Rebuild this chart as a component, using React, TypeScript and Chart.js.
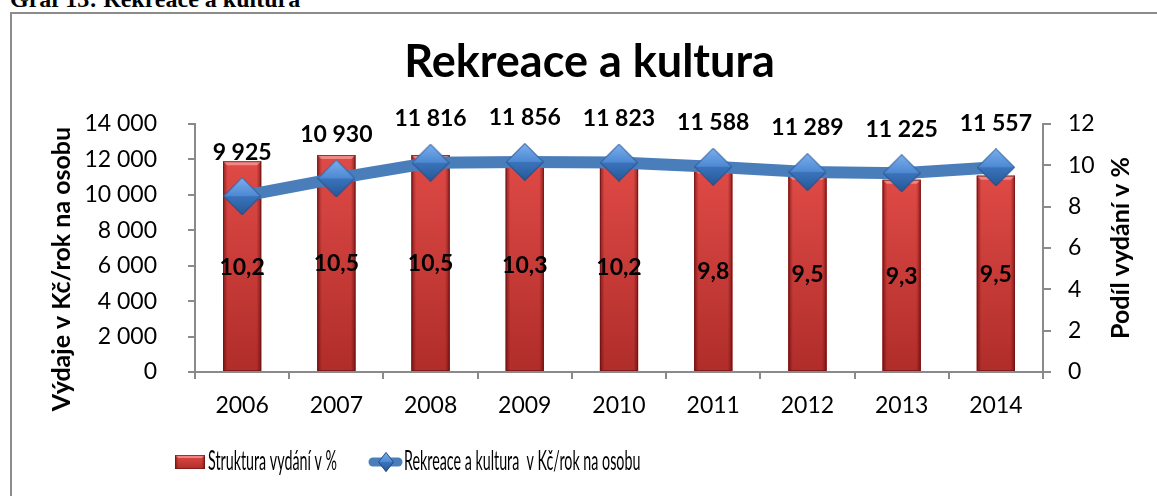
import React, { useEffect, useRef } from 'react';
import { Chart, registerables } from 'chart.js';

Chart.register(...registerables);

// ---------- data ----------
const years = ['2006', '2007', '2008', '2009', '2010', '2011', '2012', '2013', '2014'];
const spendingKc = [9925, 10930, 11816, 11856, 11823, 11588, 11289, 11225, 11557];
const sharePct = [10.2, 10.5, 10.5, 10.3, 10.2, 9.8, 9.5, 9.3, 9.5];

const chartTitle = 'Rekreace a kultura';
const caption = 'Graf 13: Rekreace a kultura';
const barSeriesLabel = 'Struktura vydání v %';
const lineSeriesLabel = 'Rekreace a kultura  v Kč/rok na osobu';
const leftAxisTitle = 'Výdaje v Kč/rok na osobu';
const rightAxisTitle = 'Podíl vydání v %';

const leftAxisMax = 14000;
const leftAxisStep = 2000;
const rightAxisMax = 12;
const rightAxisStep = 2;

// ---------- helpers ----------
const fmtThousands = (v: number) =>
  String(Math.round(v)).replace(/\B(?=(\d{3})+(?!\d))/g, ' ');
const fmtDecimal = (v: number) => v.toFixed(1).replace('.', ',');

const FONT = 'Lato';

function makeDiamond(w: number, h: number) {
  const c = document.createElement('canvas');
  c.width = w;
  c.height = h;
  const g = c.getContext('2d')!;
  const cx = w / 2;
  const cy = h / 2;
  g.beginPath();
  g.moveTo(0, cy);
  g.lineTo(cx, 0);
  g.lineTo(w, cy);
  g.closePath();
  const gt = g.createLinearGradient(0, 0, 0, cy);
  gt.addColorStop(0, '#7db0ef');
  gt.addColorStop(1, '#4c88d2');
  g.fillStyle = gt;
  g.fill();
  g.beginPath();
  g.moveTo(0, cy);
  g.lineTo(w, cy);
  g.lineTo(cx, h);
  g.closePath();
  const gb = g.createLinearGradient(0, cy, 0, h);
  gb.addColorStop(0, '#3b74bc');
  gb.addColorStop(1, '#265796');
  g.fillStyle = gb;
  g.fill();
  g.beginPath();
  g.moveTo(cx, 0.5);
  g.lineTo(w - 0.5, cy);
  g.lineTo(cx, h - 0.5);
  g.lineTo(0.5, cy);
  g.closePath();
  g.strokeStyle = 'rgba(28,66,122,0.85)';
  g.lineWidth = 1;
  g.stroke();
  return c;
}

function paintRedBox(ctx: CanvasRenderingContext2D, l: number, top: number, w: number, h: number, bevel: number) {
  const r = l + w;
  const bot = top + h;
  const gv = ctx.createLinearGradient(0, top, 0, bot);
  gv.addColorStop(0, '#df4a46');
  gv.addColorStop(1, '#b02d2a');
  ctx.fillStyle = gv;
  ctx.fillRect(l, top, w, h);
  const gh = ctx.createLinearGradient(l, 0, r, 0);
  gh.addColorStop(0, 'rgba(80,0,0,0.55)');
  gh.addColorStop(0.12, 'rgba(80,0,0,0)');
  gh.addColorStop(0.88, 'rgba(80,0,0,0)');
  gh.addColorStop(1, 'rgba(80,0,0,0.55)');
  ctx.fillStyle = gh;
  ctx.fillRect(l, top, w, h);
  ctx.beginPath();
  ctx.moveTo(l, top);
  ctx.lineTo(r, top);
  ctx.lineTo(r - bevel, top + bevel);
  ctx.lineTo(l + bevel, top + bevel);
  ctx.closePath();
  ctx.fillStyle = 'rgba(255,185,180,0.55)';
  ctx.fill();
  ctx.strokeStyle = 'rgba(110,20,20,0.7)';
  ctx.lineWidth = 1;
  ctx.strokeRect(l + 0.5, top + 0.5, w - 1, h - 1);
}

const barShadePlugin = {
  id: 'barShade',
  afterDatasetDraw(chart: any, args: any) {
    if (args.index !== 0) return;
    const ctx = chart.ctx as CanvasRenderingContext2D;
    ctx.save();
    args.meta.data.forEach((el: any) => {
      const { x, y, base, width } = el.getProps(['x', 'y', 'base', 'width'], true);
      const top = Math.min(y, base);
      const bot = Math.max(y, base);
      paintRedBox(ctx, x - width / 2, top, width, bot - top, 4);
    });
    ctx.restore();
  },
};

const dataLabelPlugin = {
  id: 'dataLabels',
  afterDatasetsDraw(chart: any) {
    const ctx = chart.ctx as CanvasRenderingContext2D;
    ctx.save();
    ctx.font = `bold 23px ${FONT}`;
    ctx.fillStyle = '#000';
    ctx.textAlign = 'center';
    ctx.textBaseline = 'middle';
    const barMeta = chart.getDatasetMeta(0);
    barMeta.data.forEach((el: any, i: number) => {
      const { x, y, base } = el.getProps(['x', 'y', 'base'], true);
      ctx.fillText(fmtDecimal(chart.data.datasets[0].data[i]), x, (y + base) / 2 + 1);
    });
    const lineMeta = chart.getDatasetMeta(1);
    lineMeta.data.forEach((el: any, i: number) => {
      const { x, y } = el.getProps(['x', 'y'], true);
      ctx.fillText(fmtThousands(chart.data.datasets[1].data[i]), x, y - 44);
    });
    ctx.restore();
  },
};

const axisTitlePlugin = {
  id: 'axisTitles',
  afterDraw(chart: any) {
    const ctx = chart.ctx as CanvasRenderingContext2D;
    const ca = chart.chartArea;
    ctx.save();
    ctx.font = `bold 25px ${FONT}`;
    ctx.fillStyle = '#000';
    ctx.textAlign = 'center';
    ctx.textBaseline = 'middle';
    ctx.save();
    ctx.translate(62, (ca.top + ca.bottom) / 2 + 21);
    ctx.rotate(-Math.PI / 2);
    ctx.fillText(leftAxisTitle, 0, 0);
    ctx.restore();
    ctx.save();
    ctx.translate(1121, (ca.top + ca.bottom) / 2);
    ctx.rotate(-Math.PI / 2);
    ctx.fillText(rightAxisTitle, 0, 0);
    ctx.restore();
    ctx.restore();
  },
};

let legendDiamond: HTMLCanvasElement | null = null;

const legendPlugin = {
  id: 'customLegend',
  afterDraw(chart: any) {
    const ctx = chart.ctx as CanvasRenderingContext2D;
    const cy = 462;
    const ds = chart.data.datasets;
    ctx.save();
    ctx.font = `26px ${FONT}`;
    ctx.fillStyle = '#000';
    ctx.textBaseline = 'middle';
    ctx.textAlign = 'left';
    const k = 129 / ctx.measureText(ds[0].label).width;

    // bar swatch
    paintRedBox(ctx, 175, cy - 7, 30, 14, 3);
    ctx.fillStyle = '#000';
    ctx.save();
    ctx.translate(208, cy);
    ctx.scale(k, 1);
    ctx.fillText(ds[0].label, 0, 0);
    ctx.restore();

    // line swatch
    ctx.strokeStyle = '#4a7ebb';
    ctx.lineWidth = 9;
    ctx.lineCap = 'round';
    ctx.beginPath();
    ctx.moveTo(373, cy);
    ctx.lineTo(398, cy);
    ctx.stroke();
    if (!legendDiamond) legendDiamond = makeDiamond(16, 20);
    ctx.drawImage(legendDiamond, 386 - 8, cy - 10);
    ctx.fillStyle = '#000';
    ctx.save();
    ctx.translate(404, cy);
    ctx.scale(k, 1);
    ctx.fillText(ds[1].label, 0, 0);
    ctx.restore();
    ctx.restore();
  },
};

export default function App() {
  const canvasRef = useRef<HTMLCanvasElement | null>(null);

  useEffect(() => {
    let chart: Chart | null = null;
    let cancelled = false;
    const build = () => {
      if (cancelled || !canvasRef.current) return;
      const diamond = makeDiamond(38, 38);
      const axisColor = '#8a8a8a';
      const tickFont = { family: FONT, size: 23 };
      chart = new Chart(canvasRef.current, {
        type: 'bar',
        data: {
          labels: years,
          datasets: [
            {
              type: 'bar',
              label: barSeriesLabel,
              data: sharePct,
              yAxisID: 'y1',
              backgroundColor: '#c83a36',
              borderWidth: 0,
              categoryPercentage: 1,
              barPercentage: 0.405,
              order: 2,
            } as any,
            {
              type: 'line',
              label: lineSeriesLabel,
              data: spendingKc,
              yAxisID: 'y',
              borderColor: '#4a7ebb',
              borderWidth: 12,
              borderJoinStyle: 'round',
              borderCapStyle: 'round',
              pointStyle: diamond,
              pointRadius: 19,
              tension: 0,
              order: 1,
            } as any,
          ],
        },
        options: {
          responsive: false,
          animation: false,
          devicePixelRatio: 1,
          layout: { padding: { left: 22, right: 0, top: 35, bottom: 64 } },
          plugins: {
            legend: { display: false },
            tooltip: { enabled: false },
            title: {
              display: true,
              text: chartTitle,
              color: '#000',
              font: { family: FONT, size: 45, weight: 'bold' },
              padding: { top: 0, bottom: 35 },
            },
          },
          scales: {
            x: {
              offset: true,
              grid: {
                offset: true,
                drawOnChartArea: false,
                color: axisColor,
                lineWidth: 2,
                tickLength: 7,
              },
              border: { color: axisColor, width: 2 },
              ticks: { font: tickFont, color: '#000', padding: 13, maxRotation: 0 },
              afterFit: (s: any) => {
                s.height = 60;
              },
            },
            y: {
              position: 'left',
              min: 0,
              max: leftAxisMax,
              grid: { drawOnChartArea: false, color: axisColor, lineWidth: 2, tickLength: 7 },
              border: { color: axisColor, width: 2 },
              ticks: {
                stepSize: leftAxisStep,
                font: tickFont,
                color: '#000',
                padding: 31,
                callback: (v: any) => fmtThousands(Number(v)),
              },
              afterFit: (s: any) => {
                s.width = 173;
              },
            },
            y1: {
              position: 'right',
              min: 0,
              max: rightAxisMax,
              grid: { drawOnChartArea: false, color: axisColor, lineWidth: 2, tickLength: 8 },
              border: { color: axisColor, width: 2 },
              ticks: { stepSize: rightAxisStep, font: tickFont, color: '#000', padding: 17 },
              afterFit: (s: any) => {
                s.width = 114;
              },
            },
          },
        } as any,
        plugins: [barShadePlugin, dataLabelPlugin, axisTitlePlugin, legendPlugin],
      });
    };
    const fontsReady = (document as any).fonts
      ? Promise.all([
          (document as any).fonts.load(`23px ${FONT}`),
          (document as any).fonts.load(`bold 23px ${FONT}`),
        ]).catch(() => null)
      : Promise.resolve(null);
    fontsReady.then(build);
    return () => {
      cancelled = true;
      if (chart) chart.destroy();
    };
  }, []);

  return (
    <div
      style={{
        position: 'absolute',
        left: 0,
        top: 0,
        width: 1157,
        height: 496,
        overflow: 'hidden',
        background: '#fff',
      }}
    >
      <div
        style={{
          position: 'absolute',
          left: 10,
          top: -13,
          fontFamily: '"Liberation Serif", "Times New Roman", serif',
          fontWeight: 'bold',
          fontSize: 24,
          lineHeight: '24px',
          whiteSpace: 'nowrap',
          color: '#000',
        }}
      >
        {caption}
      </div>
      <div
        style={{
          position: 'absolute',
          left: 10,
          top: 12,
          width: 1300,
          height: 600,
          borderLeft: '2px solid #8c8c8c',
          borderTop: '2px solid #8c8c8c',
        }}
      />
      <canvas
        ref={canvasRef}
        width={1157}
        height={496}
        style={{ position: 'absolute', left: 0, top: 0, width: 1157, height: 496 }}
      />
    </div>
  );
}
